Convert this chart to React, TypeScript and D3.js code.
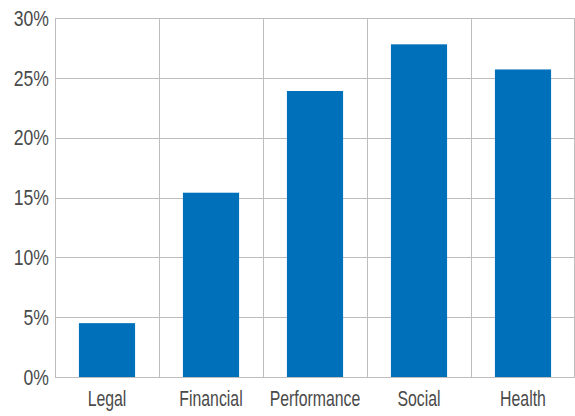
import React from "react";
import * as d3 from "d3";

const categories = ["Legal", "Financial", "Performance", "Social", "Health"];
const values = [4.5, 15.4, 23.9, 27.8, 25.7];
const yTicks = [0, 5, 10, 15, 20, 25, 30];

const W = 575;
const H = 416;
const left = 55;
const right = 575;
const top = 18;
const bottom = 377;

export default function App() {
  const x = d3.scaleBand<string>().domain(categories).range([left, right]).paddingInner(0.46).paddingOuter(0.23);
  const xb = d3.scaleBand<string>().domain(categories).range([left, right]);
  const y = d3.scaleLinear().domain([0, 30]).range([bottom, top]);
  const font = "'Liberation Sans', Arial, sans-serif";
  return (
    <svg width={W} height={H} style={{ position: "absolute", left: 0, top: 0, background: "#fff" }}>
      {yTicks.map((t) => (
        <line key={"h" + t} x1={left} x2={right} y1={Math.round(y(t)) + 0.5} y2={Math.round(y(t)) + 0.5} stroke="#bdbdbd" strokeWidth={1} />
      ))}
      {categories.map((c) => (
        <line key={"v" + c} x1={Math.round(xb(c)!) + 0.5} x2={Math.round(xb(c)!) + 0.5} y1={top} y2={bottom} stroke="#bdbdbd" strokeWidth={1} />
      ))}
      <line x1={right - 0.5} x2={right - 0.5} y1={top} y2={bottom} stroke="#bdbdbd" />
      {categories.map((c, i) => (
        <rect key={c} x={x(c)} y={y(values[i])} width={x.bandwidth()} height={bottom - y(values[i])} fill="#0070ba" />
      ))}
      {yTicks.map((t) => (
        <text key={"t" + t} transform={`translate(49,${y(t) + 7.8}) scale(0.8,1)`} textAnchor="end" fontFamily={font} fontSize={22} fill="#4a4a4a">
          {t}%
        </text>
      ))}
      {categories.map((c) => (
        <text key={"c" + c} transform={`translate(${xb(c)! + xb.bandwidth() / 2},406) scale(0.72,1)`} textAnchor="middle" fontFamily={font} fontSize={22} fill="#4a4a4a">
          {c}
        </text>
      ))}
    </svg>
  );
}
